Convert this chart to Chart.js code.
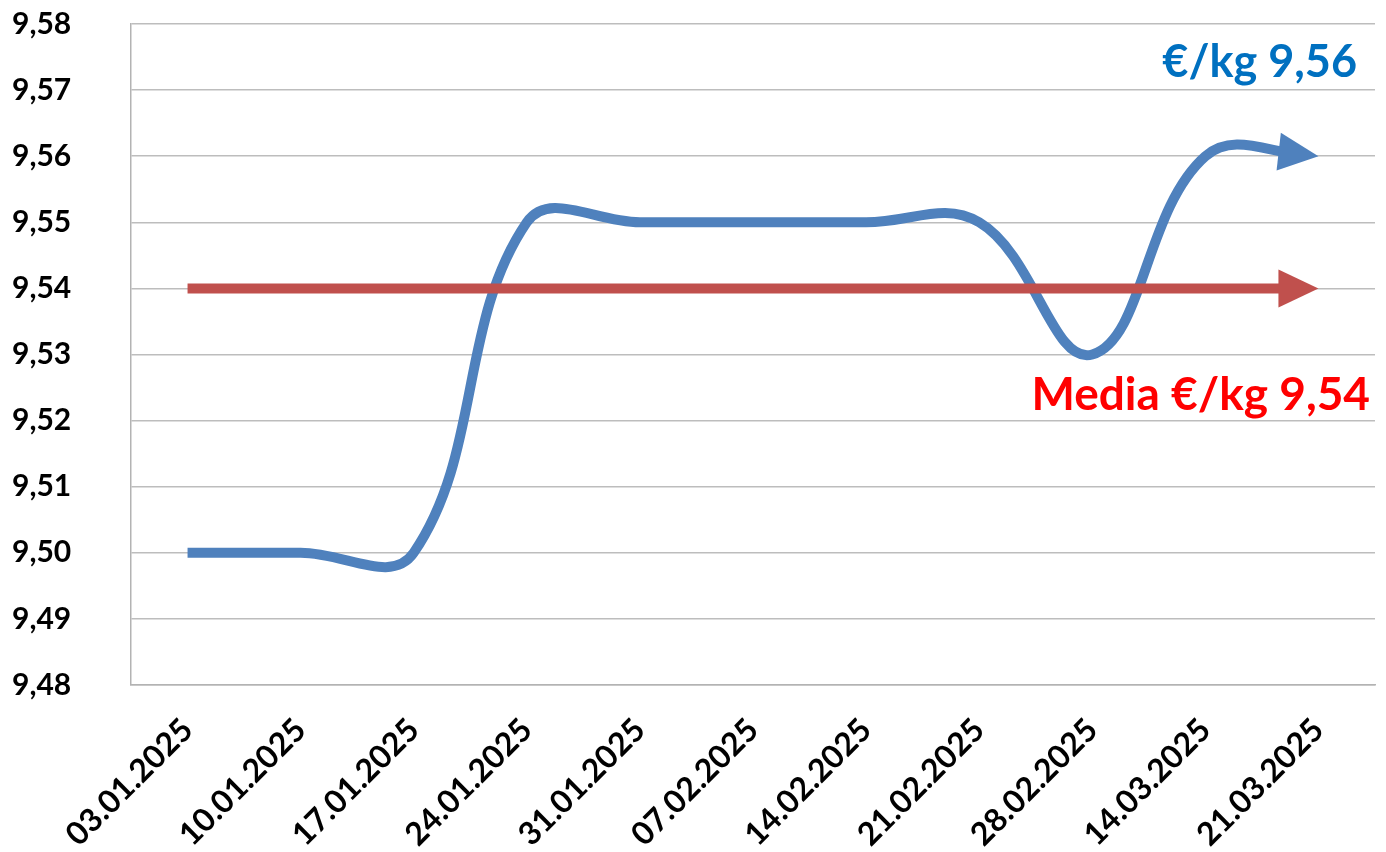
<!DOCTYPE html>
<html>
<head>
<meta charset="utf-8">
<script src="https://cdn.jsdelivr.net/npm/chart.js@4/dist/chart.umd.min.js"></script>
<style>
  html, body { margin: 0; padding: 0; background: #ffffff; }
  canvas { display: block; }
</style>
</head>
<body>
<canvas id="c" width="1386" height="852"></canvas>
<script>
// ---- data ----
const categories = ['03.01.2025','10.01.2025','17.01.2025','24.01.2025','31.01.2025','07.02.2025','14.02.2025','21.02.2025','28.02.2025','14.03.2025','21.03.2025'];
const prices = [9.50, 9.50, 9.50, 9.55, 9.55, 9.55, 9.55, 9.55, 9.53, 9.56, 9.56];
const average = [9.54, 9.54, 9.54, 9.54, 9.54, 9.54, 9.54, 9.54, 9.54, 9.54, 9.54];
const yMin = 9.48, yMax = 9.58, yStep = 0.01;
const lastPriceLabel = '€/kg 9,56';
const averageLabel = 'Media €/kg 9,54';

const FONT = 'Lato, "Open Sans", sans-serif';

const arrowPlugin = {
  id: 'arrows',
  beforeDatasetDraw(chart, args) {
    const pts = args.meta.data;
    const last = pts[pts.length - 1];
    const ctx = chart.ctx;
    ctx.save();
    ctx.beginPath();
    ctx.rect(0, 0, last.x - 22, chart.height);
    ctx.clip();
  },
  afterDatasetDraw(chart, args) {
    const ctx = chart.ctx;
    ctx.restore();
    const pts = args.meta.data;
    const a = pts[pts.length - 2], b = pts[pts.length - 1];
    const t = 0.75, u = 1 - t;
    const c1x = a.cp2x ?? a.x, c1y = a.cp2y ?? a.y, c2x = b.cp1x ?? b.x, c2y = b.cp1y ?? b.y;
    const px = u*u*u*a.x + 3*u*u*t*c1x + 3*u*t*t*c2x + t*t*t*b.x;
    const py = u*u*u*a.y + 3*u*u*t*c1y + 3*u*t*t*c2y + t*t*t*b.y;
    const ang = Math.atan2(b.y - py, b.x - px);
    const len = 40, hw = 19;
    const color = args.meta.dataset.options.borderColor;
    ctx.save();
    ctx.translate(b.x, b.y);
    ctx.rotate(ang);
    ctx.beginPath();
    ctx.moveTo(0, 0);
    ctx.lineTo(-len, -hw);
    ctx.lineTo(-len, hw);
    ctx.closePath();
    ctx.fillStyle = color;
    ctx.fill();
    ctx.restore();
  }
};

const textPlugin = {
  id: 'labels',
  afterDraw(chart) {
    const ctx = chart.ctx;
    ctx.save();
    ctx.font = 'bold 45px ' + FONT;
    ctx.textAlign = 'right';
    ctx.textBaseline = 'alphabetic';
    ctx.fillStyle = '#0070C0';
    ctx.fillText(lastPriceLabel, 1357, 77);
    ctx.font = 'bold 46px ' + FONT;
    ctx.fillStyle = '#FF0000';
    ctx.fillText(averageLabel, 1370, 410);
    ctx.restore();
  }
};

new Chart(document.getElementById('c'), {
  type: 'line',
  data: {
    labels: categories,
    datasets: [
      {
        label: 'Media',
        data: average,
        borderColor: '#C0504D',
        borderWidth: 10,
        pointRadius: 0,
        tension: 0,
        borderCapStyle: 'butt'
      },
      {
        label: 'Prezzo',
        data: prices,
        borderColor: '#4F81BD',
        borderWidth: 10,
        pointRadius: 0,
        tension: 0.4,
        borderCapStyle: 'butt',
        borderJoinStyle: 'round'
      }
    ]
  },
  options: {
    responsive: false,
    animation: false,
    devicePixelRatio: 1,
    layout: { padding: { top: 24, right: 11, left: 12, bottom: 0 } },
    plugins: { legend: { display: false }, tooltip: { enabled: false } },
    scales: {
      x: {
        offset: true,
        grid: { display: false, drawTicks: false },
        border: { display: true, color: '#B3B3B3', width: 1.5 },
        ticks: {
          minRotation: 45, maxRotation: 45, autoSkip: false,
          padding: 26,
          color: '#000000',
          font: { family: FONT, size: 32, weight: 'bold' }
        },
        afterFit(s) { s.height = 167; }
      },
      y: {
        min: yMin, max: yMax,
        grid: { color: '#BDBDBD', lineWidth: 1.5, drawTicks: false },
        border: { display: true, color: '#B3B3B3', width: 1.5 },
        ticks: {
          stepSize: yStep,
          padding: 0,
          crossAlign: 'far',
          color: '#000000',
          font: { family: FONT, size: 30, weight: 'bold' },
          callback: v => Number(v).toFixed(2).replace('.', ',')
        },
        afterFit(s) { s.width = 119; }
      }
    }
  },
  plugins: [arrowPlugin, textPlugin]
});
</script>
</body>
</html>
